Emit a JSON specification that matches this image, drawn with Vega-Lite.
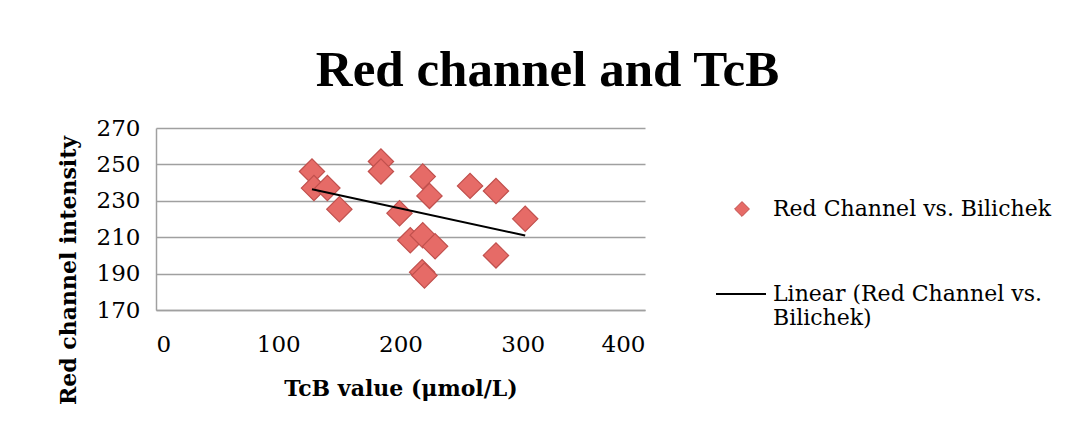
{
  "$schema": "https://vega.github.io/schema/vega-lite/v6.json",
  "autosize": {"type": "none"},
  "width": 489,
  "height": 182,
  "padding": {"left": 156, "top": 128, "right": 432, "bottom": 124},
  "background": "white",
  "config": {
    "view": {"stroke": null},
    "font": "DejaVu Serif",
    "axis": {"labelFont": "DejaVu Serif", "titleFont": "DejaVu Serif", "labelColor": "black", "titleColor": "black"}
  },
  "title": {
    "text": "Red channel and TcB",
    "font": "Liberation Serif",
    "fontSize": 51,
    "fontWeight": "bold",
    "color": "black",
    "anchor": "middle",
    "frame": "group",
    "dx": 147,
    "offset": 20
  },
  "data": {
    "values": [
      {"tcb": 127.6, "red": 246.1, "series": "Red Channel vs. Bilichek"},
      {"tcb": 129.2, "red": 237.0, "series": "Red Channel vs. Bilichek"},
      {"tcb": 140.2, "red": 237.0, "series": "Red Channel vs. Bilichek"},
      {"tcb": 150.0, "red": 225.4, "series": "Red Channel vs. Bilichek"},
      {"tcb": 184.0, "red": 251.6, "series": "Red Channel vs. Bilichek"},
      {"tcb": 184.0, "red": 246.1, "series": "Red Channel vs. Bilichek"},
      {"tcb": 199.2, "red": 223.2, "series": "Red Channel vs. Bilichek"},
      {"tcb": 218.2, "red": 243.3, "series": "Red Channel vs. Bilichek"},
      {"tcb": 223.7, "red": 232.7, "series": "Red Channel vs. Bilichek"},
      {"tcb": 256.9, "red": 238.2, "series": "Red Channel vs. Bilichek"},
      {"tcb": 278.1, "red": 235.4, "series": "Red Channel vs. Bilichek"},
      {"tcb": 302.0, "red": 220.1, "series": "Red Channel vs. Bilichek"},
      {"tcb": 208.0, "red": 208.3, "series": "Red Channel vs. Bilichek"},
      {"tcb": 218.2, "red": 211.1, "series": "Red Channel vs. Bilichek"},
      {"tcb": 228.3, "red": 205.0, "series": "Red Channel vs. Bilichek"},
      {"tcb": 278.1, "red": 200.0, "series": "Red Channel vs. Bilichek"},
      {"tcb": 217.7, "red": 190.8, "series": "Red Channel vs. Bilichek"},
      {"tcb": 219.6, "red": 189.0, "series": "Red Channel vs. Bilichek"}
    ]
  },
  "layer": [
    {
      "mark": {"type": "point", "shape": "diamond", "filled": true, "size": 640, "opacity": 1, "stroke": "#C0504D", "strokeWidth": 1.2},
      "encoding": {
        "x": {
          "field": "tcb", "type": "quantitative",
          "scale": {"domain": [0, 400], "nice": false},
          "axis": {
            "values": [0, 100, 200, 300, 400], "tickCount": 10,
            "grid": false, "ticks": false, "labelOverlap": false,
            "domainColor": "#A0A0A0", "domainWidth": 1.5,
            "labelFontSize": 23, "labelPadding": 23,
            "title": "TcB value (μmol/L)", "titleFontSize": 22, "titleFontWeight": "bold", "titlePadding": 22
          }
        },
        "y": {
          "field": "red", "type": "quantitative",
          "scale": {"domain": [170, 270], "nice": false, "zero": false},
          "axis": {
            "values": [170, 190, 210, 230, 250, 270], "tickCount": 10,
            "grid": true, "gridColor": "#A0A0A0", "gridWidth": 1.5,
            "ticks": false, "labelOverlap": false,
            "domainColor": "#A0A0A0", "domainWidth": 1.5,
            "labelFontSize": 23, "labelPadding": 16,
            "title": "Red channel intensity", "titleFontSize": 22, "titleFontWeight": "bold",
            "titleX": -88, "titleY": 142, "titleBaseline": "middle", "titleAlign": "center", "titleAngle": -90
          }
        },
        "color": {
          "field": "series", "type": "nominal",
          "scale": {"domain": ["Red Channel vs. Bilichek"], "range": ["#E66B67"]},
          "legend": {
            "orient": "none", "legendX": 575, "legendY": 70,
            "title": null, "symbolType": "diamond", "symbolSize": 220,
            "symbolStrokeColor": "#C0504D", "symbolStrokeWidth": 1,
            "labelFont": "DejaVu Serif", "labelFontSize": 22, "labelColor": "black", "labelOffset": 20, "labelLimit": 400
          }
        }
      }
    },
    {
      "transform": [{"regression": "red", "on": "tcb"}, {"calculate": "'Linear (Red Channel vs. Bilichek)'", "as": "fit"}],
      "mark": {"type": "line", "color": "black", "strokeWidth": 2},
      "encoding": {
        "x": {"field": "tcb", "type": "quantitative"},
        "y": {"field": "red", "type": "quantitative"},
        "stroke": {
          "field": "fit", "type": "nominal",
          "scale": {"range": ["black"]},
          "legend": {
            "orient": "none", "legendX": 559, "legendY": 140,
            "title": null, "symbolType": "stroke", "symbolSize": 2500, "symbolStrokeWidth": 2,
            "labelFont": "DejaVu Serif", "labelFontSize": 22, "labelColor": "black", "labelOffset": 6,
            "labelExpr": "['Linear (Red Channel vs.', 'Bilichek)']", "labelLimit": 400
          }
        }
      }
    }
  ]
}
